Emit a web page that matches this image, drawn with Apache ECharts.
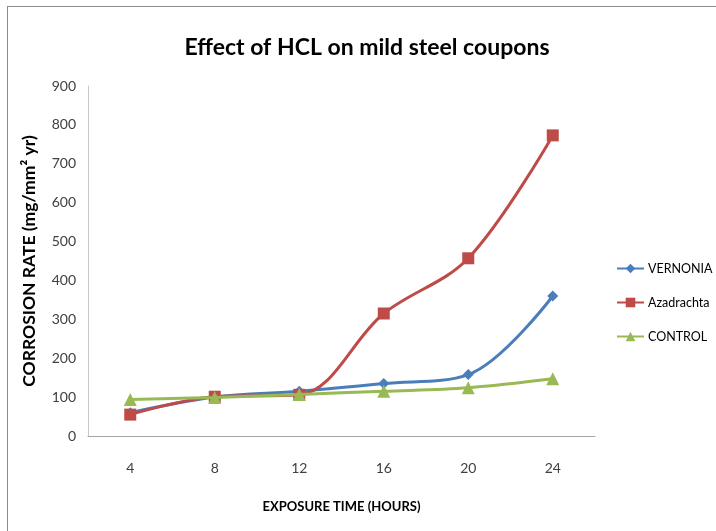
<!DOCTYPE html>
<html>
<head>
<meta charset="utf-8">
<script src="https://cdn.jsdelivr.net/npm/echarts@6/dist/echarts.min.js"></script>
<style>
  html, body { margin: 0; padding: 0; background: #fff; }
  #frame {
    position: absolute; left: 7px; top: 6px; width: 709px; height: 525px;
    border-left: 1px solid #8c8c8c; border-top: 1px solid #8c8c8c;
  }
  #chart { position: absolute; left: 0; top: 0; width: 716px; height: 531px; }
</style>
</head>
<body>
<div id="frame"></div>
<div id="chart"></div>
<script>
// exposure time (hours)
var hours = ["4", "8", "12", "16", "20", "24"];
// corrosion rate values
var vernonia = [60, 100, 115, 135, 158, 360];
var azadrachta = [55, 101, 106, 315, 457, 773];
var control = [94, 99, 107, 115, 124, 147];

var FONT = "Lato, 'Liberation Sans', sans-serif";

var myChart = echarts.init(document.getElementById("chart"));

var option = {
  backgroundColor: "transparent",
  animation: false,
  textStyle: { fontFamily: FONT },
  title: {
    text: "Effect of HCL on mild steel coupons",
    left: 362,
    textAlign: "center",
    top: 31,
    textStyle: { fontFamily: FONT, fontSize: 23, fontWeight: "bold", color: "#000" }
  },
  legend: {
    orient: "vertical",
    left: 616,
    top: 262,
    padding: 0,
    itemWidth: 27,
    itemHeight: 12,
    itemGap: 21,
    textStyle: { fontFamily: FONT, fontSize: 12.5, color: "#000", padding: [0, 0, 0, -1] },
    data: ["VERNONIA", "Azadrachta", "CONTROL"]
  },
  grid: { left: 88, right: 121, top: 86, bottom: 95 },
  xAxis: {
    type: "category",
    data: hours,
    name: "EXPOSURE TIME (HOURS)",
    nameLocation: "middle",
    nameGap: 64,
    nameTextStyle: { fontFamily: FONT, fontSize: 13, fontWeight: "bold", color: "#000" },
    axisLine: { lineStyle: { color: "#a6a6a6", width: 1 } },
    axisTick: { show: false },
    axisLabel: { margin: 25, fontSize: 14, color: "#404040", fontFamily: FONT },
    splitLine: { show: false }
  },
  yAxis: {
    type: "value",
    min: 0,
    max: 900,
    interval: 100,
    name: "CORROSION RATE (mg/mm\u00b2 yr)",
    nameLocation: "middle",
    nameGap: 50,
    nameTextStyle: { fontFamily: FONT, fontSize: 17.5, fontWeight: "bold", color: "#000" },
    axisLine: { show: true, lineStyle: { color: "#c8c8c8", width: 1 } },
    axisTick: { show: false },
    axisLabel: { margin: 12, fontSize: 14, color: "#404040", fontFamily: FONT },
    splitLine: { show: false }
  },
  series: [
    {
      name: "VERNONIA",
      type: "line",
      smooth: 0.35,
      data: vernonia,
      symbol: "diamond",
      symbolSize: 11,
      itemStyle: { color: "#4a7ebb" },
      lineStyle: { width: 3, color: "#4a7ebb" },
      z: 3
    },
    {
      name: "Azadrachta",
      type: "line",
      smooth: 0.35,
      data: azadrachta,
      symbol: "rect",
      symbolSize: 12,
      itemStyle: { color: "#be4b48" },
      lineStyle: { width: 3, color: "#be4b48" },
      z: 4
    },
    {
      name: "CONTROL",
      type: "line",
      smooth: 0.35,
      data: control,
      symbol: "triangle",
      symbolSize: 13,
      itemStyle: { color: "#98b954" },
      lineStyle: { width: 3, color: "#98b954" },
      z: 5
    }
  ]
};

myChart.setOption(option);
</script>
</body>
</html>
